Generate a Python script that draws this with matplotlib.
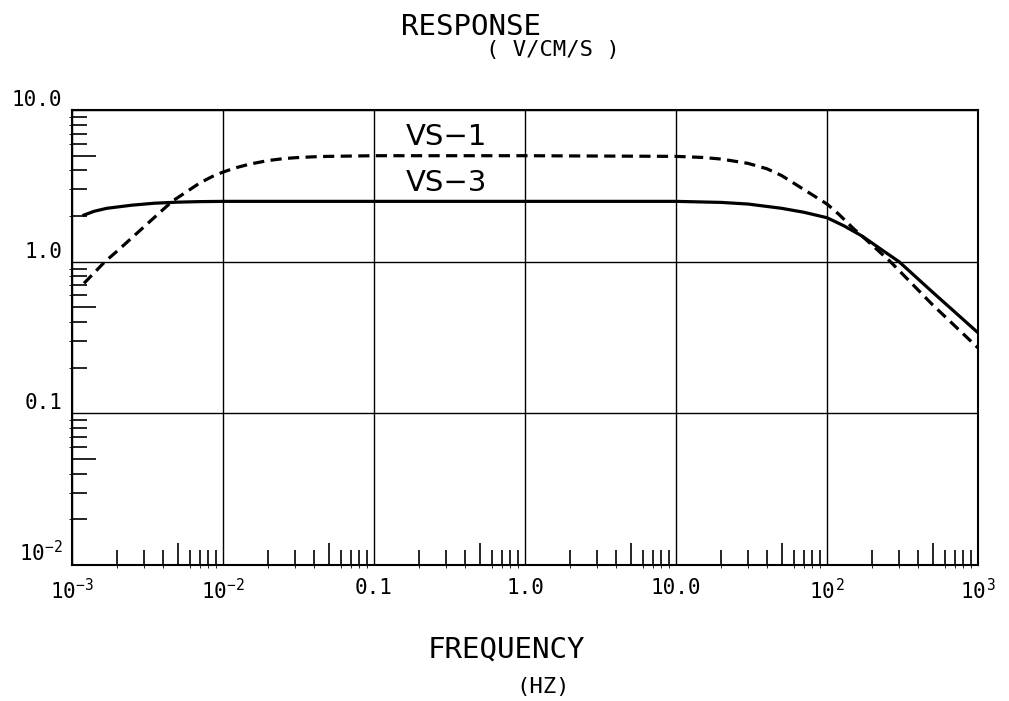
import numpy as np
import matplotlib
matplotlib.use("Agg")
import matplotlib.pyplot as plt

# VS-1 (dashed)
vs1_f = [1.2e-3, 1.65e-3, 2e-3, 3e-3, 4.6e-3, 7e-3, 8.5e-3, 1e-2, 1.2e-2, 1.5e-2, 2e-2,
         2.5e-2, 3e-2, 4e-2, 5e-2, 0.1, 1.0, 10.0, 15.0, 20.0, 30.0, 40.0, 50.0,
         70.0, 100.0, 120.0, 150.0, 170.0, 200.0, 263.0, 500.0, 1000.0]
vs1_r = [0.72, 1.0, 1.18, 1.7, 2.5, 3.3, 3.65, 3.9, 4.15, 4.4, 4.65,
         4.78, 4.85, 4.92, 4.95, 5.0, 5.0, 4.95, 4.87, 4.75, 4.45, 4.1, 3.7,
         3.0, 2.4, 2.05, 1.65, 1.48, 1.28, 1.0, 0.52, 0.27]

# VS-3 (solid)
vs3_f = [1.2e-3, 1.4e-3, 1.7e-3, 2.5e-3, 3.5e-3, 5e-3, 7e-3, 1e-2, 0.1, 1.0, 10.0,
         20.0, 30.0, 50.0, 70.0, 100.0, 130.0, 170.0, 230.0, 300.0, 500.0, 1000.0]
vs3_r = [2.03, 2.15, 2.25, 2.36, 2.43, 2.47, 2.49, 2.5, 2.5, 2.5, 2.5,
         2.46, 2.4, 2.25, 2.12, 1.95, 1.72, 1.48, 1.2, 1.0, 0.63, 0.34]

x_ticks = [1e-3, 1e-2, 0.1, 1.0, 10.0, 100.0, 1000.0]
x_labels = [r"$10^{-3}$", r"$10^{-2}$", "0.1", "1.0", "10.0", r"$10^{\,2}$", r"$10^{\,3}$"]
y_ticks = [0.01, 0.1, 1.0, 10.0]
y_labels = [r"$10^{-2}$", "0.1", "1.0", "10.0"]

plt.rcParams["font.family"] = "DejaVu Sans Mono"
plt.rcParams["mathtext.fontset"] = "custom"
plt.rcParams["mathtext.rm"] = "DejaVu Sans Mono"
plt.rcParams["mathtext.it"] = "DejaVu Sans Mono"
plt.rcParams["mathtext.default"] = "regular"

fig = plt.figure(figsize=(10.09, 7.01), dpi=100)
ax = fig.add_axes([0.0714, 0.194, 0.8979, 0.649])

ax.plot(vs1_f, vs1_r, color="black", lw=2.3, ls=(0, (3.5, 2)))
ax.plot(vs3_f, vs3_r, color="black", lw=2.3)

ax.set_xscale("log")
ax.set_yscale("log")
ax.set_xlim(1e-3, 1e3)
ax.set_ylim(1e-2, 10)

ax.set_xticks(x_ticks)
ax.set_xticklabels(x_labels)
ax.set_yticks(y_ticks)
ax.set_yticklabels(y_labels)

minor_mult = [2, 3, 4, 6, 7, 8, 9]
ax.set_xticks([m * d for d in x_ticks[:-1] for m in minor_mult], minor=True)
ax.set_yticks([m * d for d in y_ticks[:-1] for m in minor_mult], minor=True)
ax.tick_params(which="major", length=0, labelsize=15, pad=9)
ax.tick_params(which="minor", direction="in", length=11, width=1.2)
ax.tick_params(axis="y", which="major", pad=7)
for lab in ax.get_yticklabels():
    lab.set_verticalalignment("bottom")

# longer ticks at the 5s
sx = ax.secondary_xaxis("bottom")
sx.set_xticks([5 * d for d in x_ticks[:-1]])
sx.set_xticklabels([])
sx.tick_params(direction="in", length=16, width=1.2)
sx.spines["bottom"].set_visible(False)
sy = ax.secondary_yaxis("left")
sy.set_yticks([5 * d for d in y_ticks[:-1]])
sy.set_yticklabels([])
sy.tick_params(direction="in", length=17, width=1.2)
sy.spines["left"].set_visible(False)

ax.grid(True, which="major", color="black", lw=1.0)
for s in ax.spines.values():
    s.set_linewidth(1.5)

ax.text(0.30, 6.64, "VS\u22121", fontsize=21, family="DejaVu Sans", ha="center", va="center")
ax.text(0.30, 3.30, "VS\u22123", fontsize=21, family="DejaVu Sans", ha="center", va="center")

fig.text(0.467, 0.961, "RESPONSE", fontsize=21, ha="center", va="center")
fig.text(0.548, 0.929, "( V/CM/S )", fontsize=16, ha="center", va="center")
fig.text(0.502, 0.074, "FREQUENCY", fontsize=21, ha="center", va="center")
fig.text(0.538, 0.020, "(HZ)", fontsize=16, ha="center", va="center")

fig.savefig("out.png", dpi=100)
